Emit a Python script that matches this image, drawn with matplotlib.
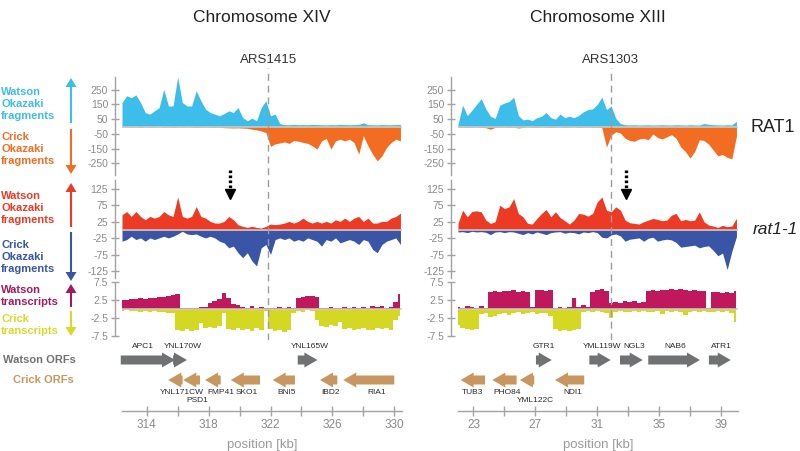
import numpy as np
import matplotlib
matplotlib.use("Agg")
import matplotlib.pyplot as plt
import matplotlib.transforms as mtransforms
from matplotlib.patches import FancyArrow, Polygon

plt.rcParams['font.family'] = ['Liberation Sans', 'DejaVu Sans']
plt.rcParams['axes.unicode_minus'] = False

# ---------------- data ----------------
chrom_titles = ['Chromosome XIV', 'Chromosome XIII']
ars_names = ['ARS1415', 'ARS1303']
ars_pos = [321.85, 31.86]
arrow_pos = [319.38, 32.86]
x_start = [312.4, 22.0]
view_range = [(312.4, 330.5), (22.0, 40.1)]
bin_kb = 0.3

# RAT1 Okazaki fragments (Watson +, Crick -)
L_w_of = [163, 209, 197, 215, 163, 95, 84, 107, 129, 254, 140, 140, 337, 163, 140, 140, 243, 175, 118, 95,
          84, 73, 88, 107, 95, 129, 61, 39, 57, 39, 129, 175, 73, 84, 20, 13, 12, 14, 12, 13,
          12, 14, 13, 12, 11, 13, 12, 14, 13, 12, 13, 14, 25, 13, 12, 11, 13, 12, 12, 13, 14]
L_c_of = [-4, -3, -5, -4, -6, -3, -5, -4, -3, -5, -4, -6, -4, -5, -3, -4, -6, -5, -4, -5, -6, -5,
          -8, -9, -10, -9, -11, -12, -18, -23, -30, -41,
          -135, -118, -112, -105, -115, -95, -100, -108, -115,
          -131, -154, -98, -80, -154, -98, -86, -98, -86, -109, -188, -63, -131, -188, -234, -200, -143, -109, -86, -98]
R_w_of = [15, 145, 75, 110, 150, 190, 120, 70, 55, 145, 160, 170, 200, 75, 45, 50, 40, 60, 70, 95,
          60, 50, 85, 60, 70, 60, 75, 100, 115, 120, 150, 200, 115, 140, 55, 20, 12, 11, 12, 10,
          11, 12, 10, 11, 12, 11, 10, 12, 11, 10, 12, 11, 10, 20, 15, 12, 11, 10, 12, 11, 35]
R_c_of = [-5, -4, -6, -5, -4, -6, -8, -18, -6, -5, -4, -6, -5, -10, -6, -4, -5, -6, -4, -5,
          -6, -5, -4, -6, -5, -4, -6, -5, -4, -6, -5, -8, -140, -60, -35, -45, -80, -95, -100, -85,
          -80, -90, -50, -75, -85, -70, -55, -80, -140, -170, -215, -170, -90, -95, -120, -160, -200, -190, -210, -220, -65]

# rat1-1 Okazaki fragments
L_w_rat = [46, 56, 41, 56, 41, 31, 41, 36, 41, 56, 46, 41, 100, 41, 36, 41, 71, 41, 36, 26,
           21, 21, 26, 41, 31, 16, 11, 8, 11, 8, 6, 11, 18, 16, 18, 21, 26, 21, 26, 36,
           26, 21, 26, 21, 26, 21, 31, 26, 36, 26, 36, 41, 26, 36, 21, 21, 26, 26, 36, 41, 51]
L_c_rat = [-34, -29, -19, -29, -24, -34, -24, -29, -24, -19, -24, -19, -12, -4, -12, -14, -12, -19, -24, -19,
           -24, -34, -39, -54, -49, -69, -84, -69, -94, -109, -54, -44, -74, -29, -24, -29, -24, -34, -29, -34,
           -24, -29, -34, -49, -29, -34, -24, -39, -34, -29, -34, -44, -29, -34, -59, -69, -44, -34, -29, -24, -44]
R_w_rat = [20, 60, 40, 56, 58, 55, 30, 20, 25, 75, 65, 70, 95, 50, 40, 20, 18, 35, 50, 62,
           40, 55, 38, 28, 18, 30, 50, 48, 42, 50, 85, 100, 60, 55, 70, 60, 30, 22, 20, 18,
           25, 30, 35, 32, 28, 30, 45, 50, 28, 32, 28, 30, 55, 25, 15, 12, 8, 14, 10, 12, 35]
R_c_rat = [-6, -5, -8, -4, -6, -5, -7, -14, -6, -5, -8, -5, -6, -10, -14, -8, -12, -6, -10, -14,
           -8, -6, -5, -10, -7, -8, -12, -6, -8, -5, -8, -22, -24, -15, -12, -18, -34, -28, -26, -24,
           -34, -25, -22, -34, -30, -28, -30, -38, -52, -50, -48, -46, -54, -50, -48, -62, -78, -70, -120, -65, -20]

# transcripts
L_w_tr = [2.5, 2.6, 2.8, 2.7, 3.0, 2.8, 3.0, 3.1, 3.2, 3.4, 3.5, 3.8, 4.3, 0.3, 0.2, 0.4, 0.3, 0.5, 0.6, 1.8,
          2.3, 2.8, 4.5, 3.0, 1.5, 1.0, 0.6, 0.4, 0.8, 0.3, 0.5, 0.4, 0.3, 0.2, 0.5, 0.3, 0.6, 0.4, 3.0, 3.4,
          3.6, 3.5, 3.2, 0.4, 0.3, 0.5, 0.4, 0.3, 0.6, 0.4, 0.5, 0.3, 0.6, 0.4, 0.8, 0.5, 0.7, 0.4, 0.6, 2.0, 4.2]
L_c_tr = [-0.5, -0.4, -0.6, -0.5, -0.7, -0.5, -0.8, -0.6, -0.9, -0.7, -1.0, -1.2, -5.8, -6.2, -5.5, -6.0, -5.7, -4.0, -5.2, -5.0,
          -5.4, -4.6, -1.2, -5.6, -5.9, -5.3, -5.7, -5.5, -6.0, -5.4, -5.8, -0.6, -5.5, -6.1, -5.8, -6.3, -5.9, -1.0, -0.5, -0.7,
          -0.4, -0.6, -3.0, -4.6, -4.9, -4.5, -4.8, -3.5, -5.6, -5.3, -5.8, -5.5, -5.2, -5.7, -5.9, -5.4, -5.6, -5.3, -5.8, -3.0, -2.0]
R_w_tr = [0.6, 0.4, 0.8, 0.5, 0.3, 0.9, 0.4, 4.8, 5.0, 4.7, 5.1, 4.9, 5.2, 4.8, 5.0, 4.6, 0.5, 5.2, 5.4, 5.1,
          5.3, 0.4, 0.6, 0.3, 0.5, 3.0, 0.6, 1.0, 0.5, 4.8, 5.3, 5.5, 5.0, 1.8, 2.0, 1.7, 2.1, 1.9, 2.2, 1.8,
          2.0, 5.0, 5.3, 5.1, 5.4, 5.2, 5.6, 5.3, 5.5, 5.2, 5.0, 5.3, 5.1, 4.9, 0.3, 4.6, 4.8, 4.5, 4.7, 4.4, 4.9]
R_c_tr = [-4.5, -5.2, -5.6, -5.9, -5.5, -1.5, -1.2, -2.3, -2.0, -1.4, -1.0, -1.6, -1.2, -0.9, -1.3, -1.1, -0.8, -1.5, -1.0, -1.2,
          -2.0, -5.6, -6.0, -5.8, -6.2, -5.7, -5.5, -0.9, -0.6, -0.8, -0.5, -0.7, -1.0, -2.5, -0.8, -0.6, -0.9, -0.7, -0.5, -0.8,
          -0.6, -0.9, -0.7, -0.5, -1.5, -0.6, -0.8, -0.6, -0.9, -1.8, -0.7, -0.5, -0.8, -0.6, -0.9, -0.7, -0.5, -0.8, -0.6, -1.2, -3.5]

# ORFs
L_watson_names = ['APC1', 'YNL170W', 'YNL165W']
L_watson_start = [312.32, 315.70, 323.76]
L_watson_end = [315.83, 316.60, 325.03]
L_watson_label_x = [313.76, 316.34, 324.55]
L_crick_names = ['YNL171CW', 'PSD1', 'FMP41', 'SKO1', 'BNI5', 'IBD2', 'RIA1']
L_crick_start = [315.39, 316.36, 317.77, 319.43, 322.14, 325.20, 326.70]
L_crick_end = [316.32, 317.44, 318.78, 321.32, 323.58, 326.32, 330.00]
L_crick_label_x = [316.30, 317.29, 318.78, 320.46, 323.07, 325.91, 328.86]
L_crick_label_row = [0, 1, 0, 0, 0, 0, 0]

R_watson_names = ['GTR1', 'YML119W', 'NGL3', 'NAB6', 'ATR1']
R_watson_start = [27.04, 30.49, 32.47, 34.30, 38.22]
R_watson_end = [28.06, 31.87, 33.94, 37.64, 39.63]
R_watson_label_x = [27.56, 31.30, 33.36, 36.03, 39.05]
R_crick_names = ['TUB3', 'PHO84', 'YML122C', 'NDI1']
R_crick_start = [22.17, 24.22, 26.00, 28.27]
R_crick_end = [23.75, 25.79, 26.93, 30.16]
R_crick_label_x = [22.97, 25.17, 26.98, 29.43]
R_crick_label_row = [0, 0, 1, 0]

of_rat1_ticks = [250, 150, 50, -50, -150, -250]
of_rat11_ticks = [125, 75, 25, -25, -75, -125]
tr_ticks = [7.5, 2.5, -2.5, -7.5]
of_rat1_ticklabels = ['250', '150', '50', '-50', '-150', '-250']
of_rat11_ticklabels = ['125', '75', '25', '-25', '-75', '-125']
tr_ticklabels = ['7.5', '2.5', '-2.5', '-7.5']
L_xticks = [314, 318, 322, 326, 330]
L_xticks_minor = [316, 320, 324, 328]
R_xticks = [23, 27, 31, 35, 39]
R_xticks_minor = [25, 29, 33, 37]

# ---------------- style ----------------
C_LBLUE = '#3dbde9'
C_ORANGE = '#f26d22'
C_RED = '#ec3a24'
C_BLUE = '#3a55a5'
C_MAG = '#c0185d'
C_YEL = '#d5d822'
C_GRAY_ORF = '#707173'
C_TAN = '#c8965f'
AX_GRAY = '#a3a3a3'
TICK_GRAY = '#8a8a8a'

W, H = 800, 451
def box(x0, y0, x1, y1):
    return [x0 / W, 1 - y1 / H, (x1 - x0) / W, (y1 - y0) / H]

PANEL_X = [(122, 402), (458, 738)]
TRACK_Y = [(77, 175), (180, 278), (282, 336)]
TRACK_LIM = [(-330, 337), (-145.5, 151.5), (-7.5, 7.5)]
ORF_Y = (340, 411)
ARS_Y = (68, 340)

fig = plt.figure(figsize=(8, 4.51), dpi=100)
ov = fig.add_axes([0, 0, 1, 1])
ov.set_xlim(0, W)
ov.set_ylim(H, 0)
ov.axis('off')

def style_track(ax, ticks, labels):
    for s in ['top', 'right', 'bottom']:
        ax.spines[s].set_visible(False)
    ax.spines['left'].set_position(('outward', 5))
    ax.spines['left'].set_color(AX_GRAY)
    ax.spines['left'].set_linewidth(1.0)
    ax.set_xticks([])
    ax.set_yticks(ticks)
    ax.set_yticklabels(labels)
    ax.tick_params(axis='y', direction='inout', length=6, width=1, color=AX_GRAY,
                   labelcolor=TICK_GRAY, labelsize=7.5, pad=2)
    ax.patch.set_visible(False)

series = [
    [(L_w_of, L_c_of), (L_w_rat, L_c_rat), (L_w_tr, L_c_tr)],
    [(R_w_of, R_c_of), (R_w_rat, R_c_rat), (R_w_tr, R_c_tr)],
]
colors = [(C_LBLUE, C_ORANGE), (C_RED, C_BLUE), (C_MAG, C_YEL)]
ticks = [(of_rat1_ticks, of_rat1_ticklabels), (of_rat11_ticks, of_rat11_ticklabels), (tr_ticks, tr_ticklabels)]

genes = [
    dict(wn=L_watson_names, ws=L_watson_start, we=L_watson_end, wl=L_watson_label_x,
         cn=L_crick_names, cs=L_crick_start, ce=L_crick_end, cl=L_crick_label_x, cr=L_crick_label_row,
         xt=L_xticks, xtm=L_xticks_minor),
    dict(wn=R_watson_names, ws=R_watson_start, we=R_watson_end, wl=R_watson_label_x,
         cn=R_crick_names, cs=R_crick_start, ce=R_crick_end, cl=R_crick_label_x, cr=R_crick_label_row,
         xt=R_xticks, xtm=R_xticks_minor),
]

HEAD_KB = 13 / 15.47
BODY_W = 9
HEAD_W = 15
W_ROW = ORF_Y[1] - 360
C_ROW = ORF_Y[1] - 380
W_LAB = ORF_Y[1] - 347
C_LAB = [ORF_Y[1] - 393, ORF_Y[1] - 401]

def draw_gene(ax, s, e, y, strand, color):
    L = e - s
    hl = min(HEAD_KB, L)
    x0, dx = (s, L) if strand > 0 else (e, -L)
    ax.add_patch(FancyArrow(x0, y, dx, 0, width=BODY_W, head_width=HEAD_W, head_length=hl,
                            length_includes_head=True, color=color, lw=0, clip_on=False))

for p in range(2):
    x0, x1 = PANEL_X[p]
    vr = view_range[p]
    track_axes = []
    for t in range(3):
        y0, y1 = TRACK_Y[t]
        ax = fig.add_axes(box(x0, y0, x1, y1))
        wv, cv = series[p][t]
        pos = x_start[p] + bin_kb * np.arange(len(wv))
        if t < 2:
            ax.fill_between(pos, 0, wv, color=colors[t][0], lw=0)
            ax.fill_between(pos, 0, cv, color=colors[t][1], lw=0)
        else:
            ax.fill_between(pos, 0, wv, step='mid', color=colors[t][0], lw=0)
            ax.fill_between(pos, 0, cv, step='mid', color=colors[t][1], lw=0)
        ax.axhline(0, color='#cdcdcd', lw=1.1, zorder=3)
        ax.set_xlim(vr)
        ax.set_ylim(TRACK_LIM[t])
        style_track(ax, *ticks[t])
        track_axes.append(ax)

    # dotted arrow on rat1-1 track
    ax2 = track_axes[1]
    tr2 = mtransforms.blended_transform_factory(ax2.transData, ax2.transAxes)
    fy = lambda ypx: (TRACK_Y[1][1] - ypx) / (TRACK_Y[1][1] - TRACK_Y[1][0])
    ax2.plot([arrow_pos[p], arrow_pos[p]], [fy(170), fy(189)], transform=tr2, color='black',
             lw=2.4, ls=(0, (0.8, 0.7)), clip_on=False, solid_capstyle='butt', zorder=6)
    ax2.plot([arrow_pos[p]], [fy(194)], transform=tr2, marker='v', ms=7.5, color='black',
             clip_on=False, zorder=6)

    # ARS dashed line
    axa = fig.add_axes(box(x0, ARS_Y[0], x1, ARS_Y[1]))
    axa.set_xlim(vr)
    axa.set_ylim(0, 1)
    axa.axis('off')
    axa.axvline(ars_pos[p], color='#9c9c9c', lw=1.0, ls=(0, (5, 3.5)))
    axa.annotate(ars_names[p], xy=(ars_pos[p], 1), xycoords=('data', 'axes fraction'),
                 xytext=(0, 6), textcoords='offset points', ha='center', va='center',
                 fontsize=9.5, color='#333333')

    # title
    ov.text((x0 + x1) / 2, 18, chrom_titles[p], ha='center', va='center', fontsize=12.5, color='#222222')

    # ORF track
    g = genes[p]
    axo = fig.add_axes(box(x0, ORF_Y[0], x1, ORF_Y[1]))
    axo.set_xlim(vr)
    axo.set_ylim(0, ORF_Y[1] - ORF_Y[0])
    for i, n in enumerate(g['wn']):
        draw_gene(axo, g['ws'][i], g['we'][i], W_ROW, 1, C_GRAY_ORF)
        axo.text(g['wl'][i], W_LAB, n, ha='center', va='center', fontsize=6, color='#2a2a2a')
    for i, n in enumerate(g['cn']):
        draw_gene(axo, g['cs'][i], g['ce'][i], C_ROW, -1, C_TAN)
        axo.text(g['cl'][i], C_LAB[g['cr'][i]], n, ha='center', va='center', fontsize=6, color='#2a2a2a')
    for s in ['top', 'right', 'left']:
        axo.spines[s].set_visible(False)
    axo.spines['bottom'].set_color(AX_GRAY)
    axo.spines['bottom'].set_linewidth(1.0)
    axo.set_yticks([])
    axo.set_xticks(g['xt'])
    axo.set_xticklabels([str(v) for v in g['xt']])
    axo.set_xticks(g['xtm'], minor=True)
    axo.tick_params(axis='x', which='both', direction='inout', length=7, width=1, color=AX_GRAY,
                    labelcolor=TICK_GRAY, labelsize=8.5, pad=2)
    axo.set_xlabel('position [kb]', fontsize=9.5, color='#9a9a9a', labelpad=6)
    axo.patch.set_visible(False)

# strain labels
ov.text(751, 127, 'RAT1', ha='left', va='center', fontsize=13, color='#222222')
ov.text(753, 230, 'rat1-1', ha='left', va='center', fontsize=12.5, style='italic', color='#222222')

# left legend
legend_entries = [
    ('Watson\nOkazaki\nfragments', C_LBLUE, 104, 123, 78),
    ('Crick\nOkazaki\nfragments', C_ORANGE, 149, 129, 174),
    ('Watson\nOkazaki\nfragments', C_RED, 208, 227, 183),
    ('Crick\nOkazaki\nfragments', C_BLUE, 257, 232, 281),
    ('Watson\ntranscripts', '#a01b5e', 296, 307, 284),
    ('Crick\ntranscripts', '#d6db2a', 325, 311, 336),
]
AX_X = 71
for txt, col, ty, tail, tip in legend_entries:
    ov.text(1, ty, txt, ha='left', va='center', fontsize=8, fontweight='bold', color=col, linespacing=1.2)
    d = 1 if tip > tail else -1
    base = tip - d * 9
    ov.plot([AX_X, AX_X], [tail, base], color=col, lw=1.5, solid_capstyle='butt')
    ov.add_patch(Polygon([[AX_X - 5.5, base], [AX_X + 5.5, base], [AX_X, tip]], closed=True,
                         color=col, lw=0))

ov.text(76, 360, 'Watson ORFs', ha='right', va='center', fontsize=8, fontweight='bold', color=C_GRAY_ORF)
ov.text(74, 380, 'Crick ORFs', ha='right', va='center', fontsize=8, fontweight='bold', color=C_TAN)

fig.savefig('out.png', dpi=100)
